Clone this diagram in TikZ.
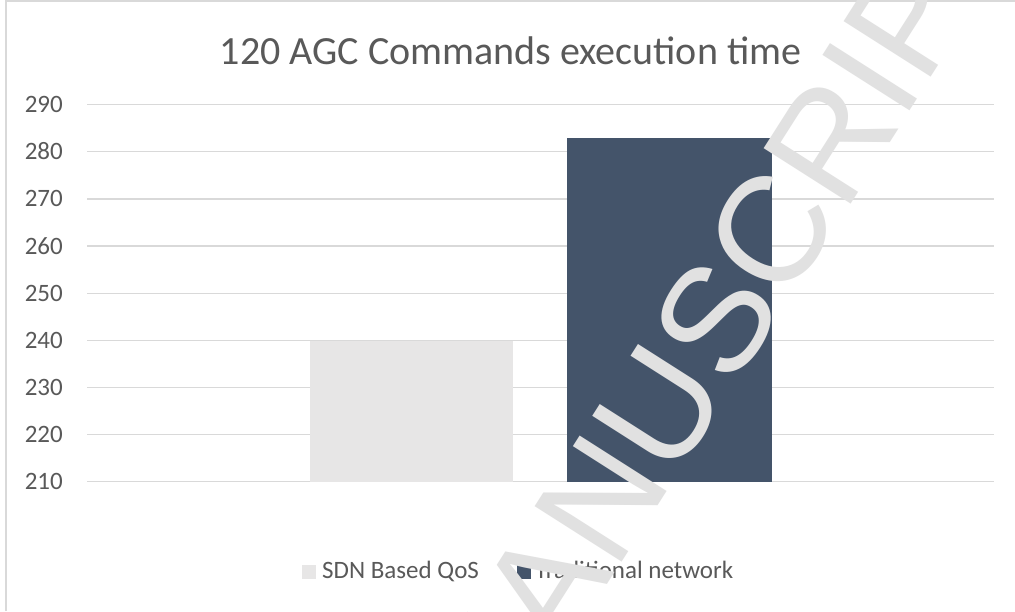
\documentclass[tikz,border=0pt]{standalone}
\usepackage{fontspec}
\setmainfont{Carlito}
\newfontfamily\wmfont{Liberation Sans}
\definecolor{txt}{HTML}{595959}
\definecolor{gridc}{HTML}{D9D9D9}
\definecolor{barA}{HTML}{E7E6E6}
\definecolor{barB}{HTML}{44546A}
\definecolor{wmc}{HTML}{E1E1E1}
\definecolor{framec}{HTML}{D9D9D9}
\begin{document}
\begin{tikzpicture}[x=1pt,y=-1pt,
  ticklabel/.style={anchor=base east, inner sep=0pt, text=txt, font=\fontsize{25}{30}\selectfont},
  legtext/.style={anchor=base west, inner sep=0pt, text=txt, font=\fontsize{25}{30}\selectfont},
  titletext/.style={anchor=base, inner sep=0pt, text=txt, font=\fontsize{40}{48}\selectfont},
  gridline/.style={draw=gridc, line width=1.3pt},
  legkey/.style={minimum size=14pt, inner sep=0pt, anchor=north west}]
\useasboundingbox (0,0) rectangle (1015,611);
\fill[white] (0,0) rectangle (1015,611);
\draw[framec, line width=2pt] (6,611) -- (6,1) -- (1015,1);
% title
\node[titletext] (title) at (510.5,64) {120 AGC Commands execution time};
% gridlines and tick labels
\foreach \v in {210,220,...,290}{
  \pgfmathsetmacro{\yy}{481.7-(\v-210)*4.7125}
  \coordinate (gl\v) at (87,\yy);
  \coordinate (gr\v) at (994,\yy);
  \draw[gridline] (gl\v) -- (gr\v);
  \node[ticklabel] (t\v) at (63,\yy+8) {\v};
}
% bars
\fill[barA] (310,340.5) rectangle (513,481.7);
\fill[barB] (567,138) rectangle (772,481.7);
% legend
\node[legkey, fill=barA] (k1) at (302,565) {};
\node[legtext] (l1) at (322,578) {SDN Based QoS};
\node[legkey, fill=barB] (k2) at (517,565) {};
\node[legtext] (l2) at (535,578) {Traditional network};
% watermark
\begin{scope}
\clip (0,0) rectangle (1015,611);
\node[rotate=57.5, anchor=base, inner sep=0pt, text=wmc, font=\wmfont\fontsize{150}{150}\selectfont] (wm) at (674,481) {\llap{ACCEPTED MAN}\rlap{USCRIPT}};
\end{scope}
\end{tikzpicture}
\end{document}
